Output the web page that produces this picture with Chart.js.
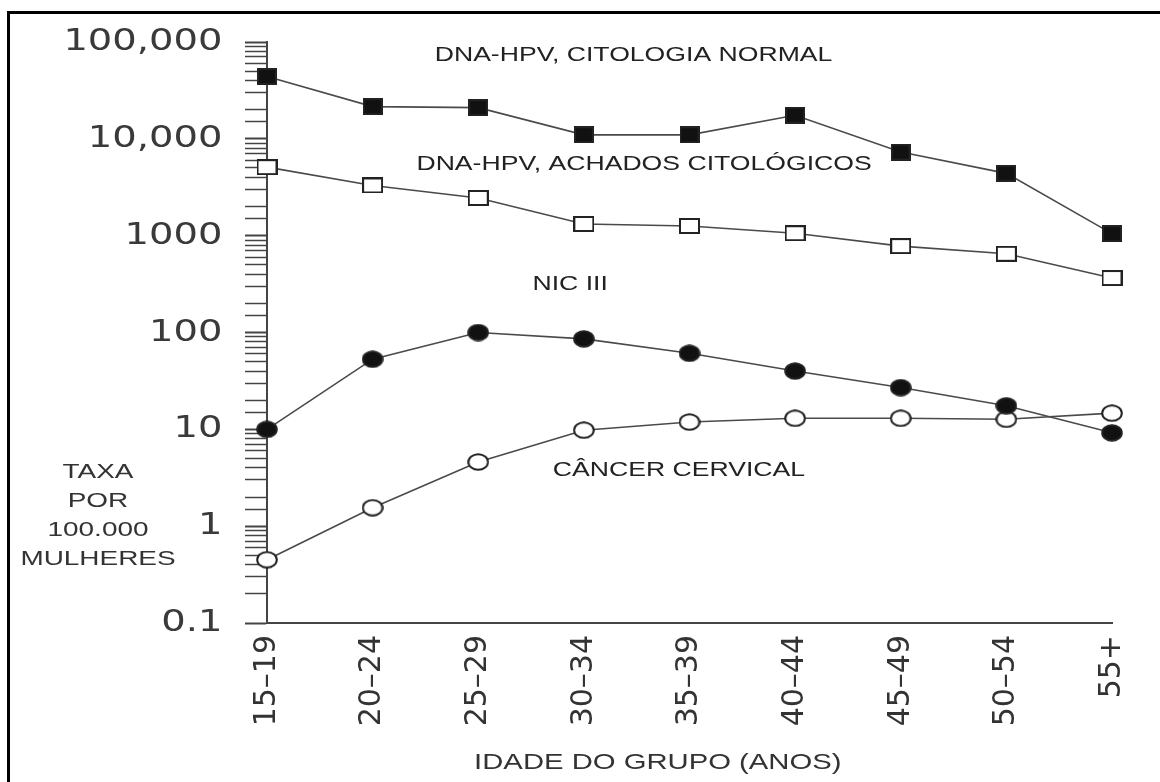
<!DOCTYPE html>
<html>
<head>
<meta charset="utf-8">
<script src="https://cdn.jsdelivr.net/npm/chart.js@4.4.1/dist/chart.umd.min.js"></script>
<style>
  html, body { margin: 0; padding: 0; background: #fff; overflow: hidden; }
  #frame { position: absolute; left: 7px; top: 11px; width: 1150px; height: 770px; border-left: 3px solid #000; border-top: 3px solid #000; }
  #wrap { position: absolute; left: 0; top: 0; width: 1160px; height: 782px; }
</style>
</head>
<body>
<div id="frame"></div>
<div id="wrap"><canvas id="chart" width="1160" height="782"></canvas></div>
<script>
// age groups on the x axis
var ageGroups = ['15–19', '20–24', '25–29', '30–34', '35–39', '40–44', '45–49', '50–54', '55+'];

// rates per 100.000 women
var hpvNormal  = [44000, 21500, 21000, 11000, 11000, 17500, 7300, 4400, 1050];
var hpvAchados = [5100, 3300, 2450, 1320, 1260, 1060, 780, 650, 365];
var nic3       = [10, 53, 100, 86, 61, 40, 27, 17.5, 9.2];
var cancer     = [0.45, 1.55, 4.6, 9.8, 11.9, 13, 13, 12.7, 14.7];

var yTickLabels = ['0.1', '1', '10', '100', '1000', '10,000', '100,000'];

var seriesNotes = [
    { text: 'DNA-HPV, CITOLOGIA NORMAL', at: 3.47, value: 72000 },
    { text: 'DNA-HPV, ACHADOS CITOLÓGICOS', at: 3.57, value: 5400 },
    { text: 'NIC III', at: 2.87, value: 310 },
    { text: 'CÂNCER CERVICAL', at: 3.9, value: 3.8 }
];
var yTitleLines = ['TAXA', 'POR', '100.000', 'MULHERES'];
var xTitle = 'IDADE DO GRUPO (ANOS)';

function makeMarker(shape, filled, w, h) {
    var c = document.createElement('canvas');
    c.width = w;
    c.height = h;
    var g = c.getContext('2d');
    g.fillStyle = filled ? '#111' : '#fff';
    g.strokeStyle = '#222';
    g.lineWidth = 2;
    if (shape === 'square') {
        g.fillRect(1, 1, w - 2, h - 2);
        g.strokeRect(1, 1, w - 2, h - 2);
    } else {
        g.beginPath();
        g.ellipse(w / 2, h / 2, w / 2 - 1.2, h / 2 - 1.2, 0, 0, Math.PI * 2);
        g.fill();
        g.stroke();
    }
    return c;
}

function stretchText(ctx, text, x, y, sx) {
    ctx.save();
    ctx.translate(x, y);
    ctx.scale(sx, 1);
    ctx.fillText(text, 0, 0);
    ctx.restore();
}

var notesPlugin = {
    id: 'notes',
    afterUpdate: function (chart) {
        // the y tick numbers in the original are drawn wide, stretch them a bit
        var ys = chart.scales.y;
        if (!ys._stretched) {
            var orig = ys.drawLabels;
            ys.drawLabels = function (area) {
                var c = this.ctx;
                c.save();
                c.translate(this.right, 0);
                c.scale(1.24, 1);
                c.translate(-this.right, 0);
                orig.call(this, area);
                c.restore();
            };
            ys._stretched = true;
        }
    },
    afterDraw: function (chart) {
        var ctx = chart.ctx;
        var xs = chart.scales.x, ys = chart.scales.y;
        ctx.save();
        ctx.fillStyle = '#222';
        ctx.textAlign = 'center';
        ctx.textBaseline = 'middle';
        ctx.font = '20px "Liberation Sans", Arial, sans-serif';
        seriesNotes.forEach(function (n) {
            stretchText(ctx, n.text, xs.getPixelForValue(n.at), ys.getPixelForValue(n.value), 1.33);
        });

        ctx.fillStyle = '#333';
        ctx.font = '21px "Liberation Sans", Arial, sans-serif';
        var tx = xs.getPixelForValue(-1.6);
        var ty = ys.getPixelForValue(3.6);
        yTitleLines.forEach(function (line, i) {
            stretchText(ctx, line, tx, ty + i * 29, 1.33);
        });

        ctx.font = '22px "Liberation Sans", Arial, sans-serif';
        stretchText(ctx, xTitle, xs.getPixelForValue(3.7), chart.chartArea.bottom + 140, 1.33);
        ctx.restore();
    }
};

function lineSet(label, data, marker) {
    return {
        label: label,
        data: data,
        borderColor: '#4a4a4a',
        borderWidth: 1.6,
        pointStyle: marker,
        pointRadius: 9,
        tension: 0,
        clip: false
    };
}

var ctx = document.getElementById('chart').getContext('2d');
var chart = new Chart(ctx, {
    type: 'line',
    data: {
        labels: ageGroups,
        datasets: [
            lineSet('DNA-HPV, CITOLOGIA NORMAL', hpvNormal, makeMarker('square', true, 20, 17)),
            lineSet('DNA-HPV, ACHADOS CITOLÓGICOS', hpvAchados, makeMarker('square', false, 21, 16)),
            lineSet('NIC III', nic3, makeMarker('circle', true, 22, 18)),
            lineSet('CÂNCER CERVICAL', cancer, makeMarker('circle', false, 22, 18))
        ]
    },
    options: {
        responsive: false,
        animation: false,
        devicePixelRatio: 1,
        layout: { padding: { left: 0, top: 42, right: 28, bottom: 0 } },
        plugins: {
            legend: { display: false },
            tooltip: { enabled: false }
        },
        scales: {
            x: {
                type: 'category',
                offset: false,
                grid: { display: false, drawTicks: false },
                border: { display: true, color: '#444', width: 2 },
                ticks: {
                    autoSkip: false,
                    minRotation: 90,
                    maxRotation: 90,
                    padding: 12,
                    color: '#333',
                    font: { family: 'DejaVu Sans', size: 30 }
                },
                afterFit: function (scale) { scale.height = 159; }
            },
            y: {
                type: 'logarithmic',
                min: 0.1,
                max: 100000,
                grid: {
                    drawOnChartArea: false,
                    drawTicks: true,
                    tickLength: 22,
                    tickColor: '#444',
                    tickWidth: function (c) {
                        var e = Math.log10(c.tick.value);
                        return Math.abs(e - Math.round(e)) < 1e-6 ? 2 : 1.5;
                    }
                },
                border: { display: true, color: '#444', width: 2 },
                ticks: {
                    autoSkip: false,
                    padding: 14,
                    color: '#3a3a3a',
                    font: { family: 'DejaVu Sans', size: 31 },
                    callback: function (value) {
                        var e = Math.log10(value);
                        if (Math.abs(e - Math.round(e)) > 1e-6) return '';
                        return yTickLabels[Math.round(e) + 1];
                    }
                },
                afterFit: function (scale) { scale.width = 267; }
            }
        }
    },
    plugins: [notesPlugin]
});
</script>
</body>
</html>
